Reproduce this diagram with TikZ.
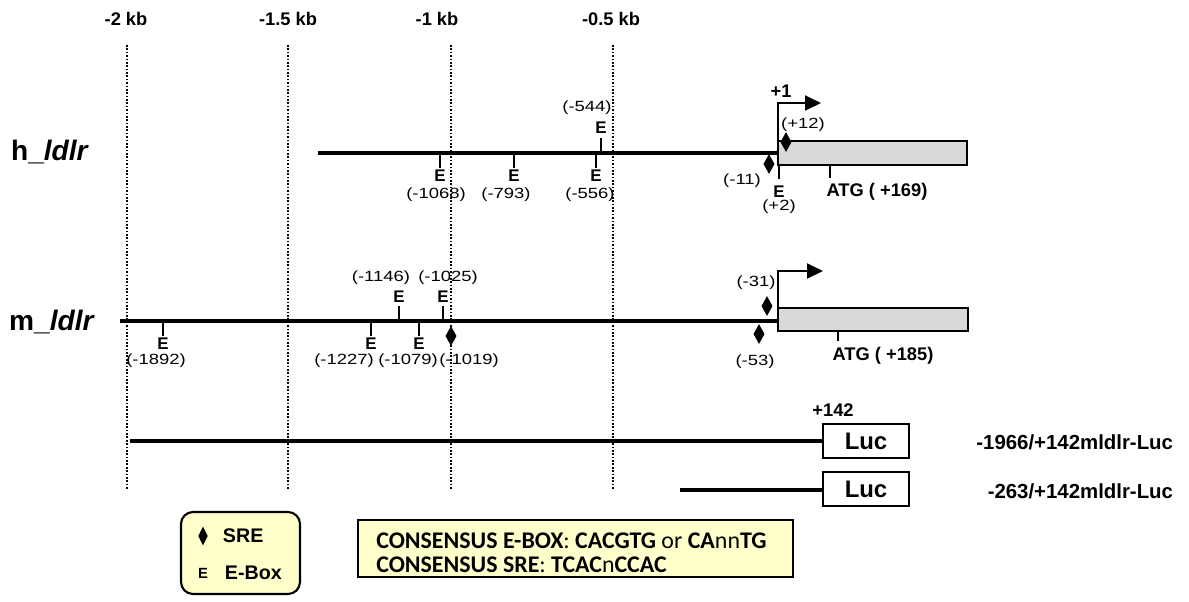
\documentclass[tikz,border=0pt]{standalone}
\usepackage{fontspec}
\setmainfont{Liberation Sans}
\newfontfamily\carlito{Carlito}
\newfontfamily\bpfont[FakeStretch=1.25]{Liberation Sans}
\usepackage{tikz}
\usetikzlibrary{arrows.meta}
\usetikzlibrary{shapes.geometric}
\definecolor{exon-grey}{HTML}{D9D9D9}
\definecolor{note-yellow}{HTML}{FFFFCC}
\newcommand{\ptsize}[1]{\fontsize{#1}{#1}\selectfont}

\begin{document}
\begin{tikzpicture}[x=0.025cm, y=-0.025cm, line join=miter,
    dna/.style={line width=2.8pt},
    etick/.style={line width=2pt},
    kbline/.style={line width=1.2pt, dash pattern=on 1.2pt off 1.2pt},
    sre/.style={diamond, fill=black, minimum width=0.28cm, minimum height=0.5cm, inner sep=0pt},
    emark/.style={font=\bfseries\ptsize{12}, inner sep=0pt},
    bpnum/.style={font=\bpfont\ptsize{10.5}, inner sep=0pt},
    kb/.style={font=\bfseries\ptsize{13}},
    luc/.style={draw, line width=2pt, minimum width=2.15cm, minimum height=0.85cm, font=\bfseries\ptsize{17}},
    tss/.style={line width=2pt, -{Triangle[length=0.4cm, width=0.37cm]}}]
    % frame
    \useasboundingbox (0,0) rectangle (1189,601);

    % kb scale
    \draw[kbline] (127,45) -- (127,490);
    \draw[kbline] (288,45) -- (288,490);
    \draw[kbline] (451,45) -- (451,490);
    \draw[kbline] (613,45) -- (613,490);
    \node (kb2) at (126,19) [kb] {-2 kb};
    \node (kb15) at (288,19) [kb] {-1.5 kb};
    \node (kb1) at (437,19) [kb] {-1 kb};
    \node (kb05) at (611,19) [kb] {-0.5 kb};

    % human promoter
    \node (hname) at (50,152) [font=\bfseries\ptsize{20}] {h\_\textit{ldlr}};
    \draw[dna] (318,153) -- (778,153);
    \draw[line width=2pt, fill=exon-grey] (778,141) rectangle (967,165);
    \draw[tss] (778,141) -- (778,103) -- (821,103);
    \node (hstart) at (781,91) [kb] {+1};
    \draw[etick] (440,153) -- (440,168);
    \node (hE1068) at (440,176) [emark] {E};
    \node (h1068) at (436,195) [bpnum] {(-1068)};
    \draw[etick] (514,153) -- (514,168);
    \node (hE793) at (514,176) [emark] {E};
    \node (h793) at (506,195) [bpnum] {(-793)};
    \draw[etick] (596,153) -- (596,168);
    \node (hE556) at (596,176) [emark] {E};
    \node (h556) at (590,195) [bpnum] {(-556)};
    \draw[etick] (601,153) -- (601,138);
    \node (hE544) at (601,128) [emark] {E};
    \node (h544) at (587,108) [bpnum] {(-544)};
    \node (hS11) at (769,164) [sre] {};
    \node (h11) at (742,181) [bpnum] {(-11)};
    \node (hS12) at (786,142) [sre] {};
    \node (h12) at (803,125) [bpnum] {(+12)};
    \draw[etick] (779,165) -- (779,179);
    \node (hE2) at (779,192) [emark] {E};
    \node (h2) at (779,207) [bpnum] {(+2)};
    \draw[etick] (830,165) -- (830,178);
    \node (hatg) at (877,192) [kb] {ATG ( +169)};

    % mouse promoter
    \node (mname) at (52,322) [font=\bfseries\ptsize{20}] {m\_\textit{ldlr}};
    \draw[dna] (120,321) -- (778,321);
    \draw[line width=2pt, fill=exon-grey] (778,308) rectangle (968,331);
    \draw[tss] (778,308) -- (778,271) -- (823,271);
    \draw[etick] (163,321) -- (163,336);
    \node (mE1892) at (163,344) [emark] {E};
    \node (m1892) at (156,361) [bpnum] {(-1892)};
    \draw[etick] (371,321) -- (371,336);
    \node (mE1227) at (371,344) [emark] {E};
    \node (m1227) at (344,361) [bpnum] {(-1227)};
    \draw[etick] (419,321) -- (419,336);
    \node (mE1079) at (419,344) [emark] {E};
    \node (m1079) at (408,361) [bpnum] {(-1079)};
    \node (mS1019) at (451,336) [sre] {};
    \node (m1019) at (469,361) [bpnum] {(-1019)};
    \draw[etick] (399,321) -- (399,306);
    \node (mE1146) at (399,297) [emark] {E};
    \node (m1146) at (381,278) [bpnum] {(-1146)};
    \draw[etick] (443,321) -- (443,306);
    \node (mE1025) at (443,297) [emark] {E};
    \node (m1025) at (448,278) [bpnum] {(-1025)};
    \node (mS31) at (767,306) [sre] {};
    \node (m31) at (756,283) [bpnum] {(-31)};
    \node (mS53) at (759,334) [sre] {};
    \node (m53) at (755,362) [bpnum] {(-53)};
    \draw[etick] (838,331) -- (838,341);
    \node (matg) at (883,356) [kb] {ATG ( +185)};

    % reporter constructs
    \node (luclong) at (866,441) [luc] {Luc};
    \node (lucshort) at (866,489) [luc] {Luc};
    \coordinate (longstart) at (130,441);
    \coordinate (shortstart) at (680,490);
    \draw[line width=2.2pt] (longstart) -- (luclong.west);
    \draw[line width=2.2pt] (shortstart) -- (lucshort.west |- shortstart);
    \node (end142) at (833,410) [kb] {+142};
    \node (longname) at (1178,442) [anchor=east, font=\bfseries\ptsize{14.5}] {-1966/+142mldlr-Luc};
    \node (shortname) at (1178,491) [anchor=east, font=\bfseries\ptsize{14.5}] {-263/+142mldlr-Luc};

    % legend
    \draw[line width=1.5pt, fill=note-yellow, rounded corners=0.3cm] (181,512) rectangle (300,594);
    \node (legS) at (203,536) [sre, minimum width=0.24cm, minimum height=0.48cm] {};
    \node (legSRE) at (218,536) [anchor=west, font=\bfseries\ptsize{14}] {SRE};
    \node (legE) at (203,573) [font=\bfseries\ptsize{10.5}] {E};
    \node (legEbox) at (220,573) [anchor=west, font=\bfseries\ptsize{14}] {E-Box};

    % consensus sequences
    \draw[line width=1.3pt, fill=note-yellow] (358,520) rectangle (793,577);
    \node (cons) at (376,553) [anchor=west, align=left, inner sep=0pt, font=\carlito\fontsize{17}{17.2}\selectfont] {\textbf{CONSENSUS E-BOX}: \textbf{CACGTG} or \textbf{CA}nn\textbf{TG}\\
      \textbf{CONSENSUS SRE}: \textbf{TCAC}n\textbf{CCAC}};

\end{tikzpicture}
\end{document}
